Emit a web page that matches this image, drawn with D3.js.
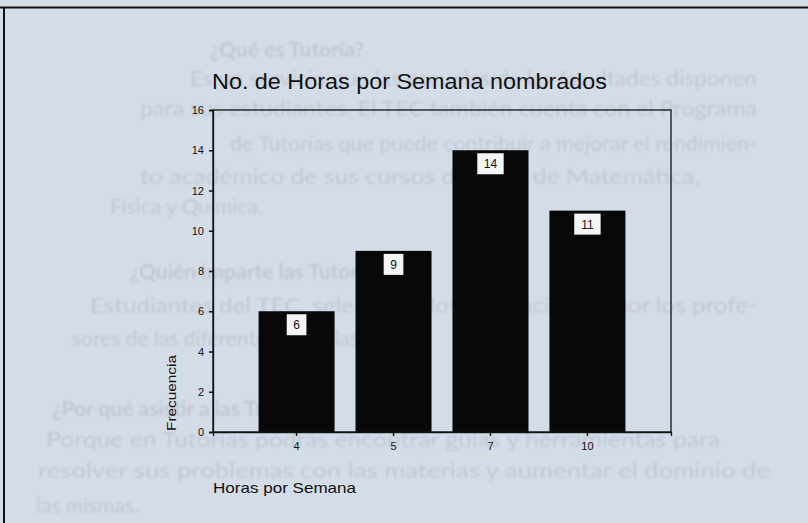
<!DOCTYPE html>
<html>
<head>
<meta charset="utf-8">
<script src="https://cdn.jsdelivr.net/npm/d3@7/dist/d3.min.js"></script>
<style>
  html, body { margin: 0; padding: 0; background: #d4dce8; }
  svg { display: block; }
</style>
</head>
<body>
<svg id="chart" width="808" height="523"></svg>
<script>
// ---- data ----
const categories = ["4", "5", "7", "10"];
const frequencies = [6, 9, 14, 11];
const yTicks = [0, 2, 4, 6, 8, 10, 12, 14, 16];
const titleText = "No. de Horas por Semana nombrados";
const xLabelText = "Horas por Semana";
const yLabelText = "Frecuencia";

// faded page text showing behind the chart (scanned page)
const pageLines = [
  "¿Qué es Tutoría?",
  "Es un servicio que las escuelas de las facultades disponen",
  "para sus estudiantes. El TEC también cuenta con el Programa",
  "de Tutorías que puede contribuir a mejorar el rendimien-",
  "to académico de sus cursos del área de Matemática,",
  "Física y Química.",
  "¿Quién imparte las Tutorías?",
  "Estudiantes del TEC, seleccionados y capacitados por los profe-",
  "sores de las diferentes escuelas.",
  "¿Por qué asistir a las Tutorías?",
  "Porque en Tutorías podrás encontrar guías y herramientas para",
  "resolver sus problemas con las materias y aumentar el dominio de",
  "las mismas."
];
// layout for those lines: [x start, x end (or null), baseline y, bold]
const pageLayout = [
  [210, null, 57, true],
  [190, 757, 86, false],
  [140, 757, 116, false],
  [230, 757, 151, false],
  [140, 700, 184, false],
  [110, null, 214, false],
  [130, null, 279, true],
  [90, 757, 313, false],
  [72, null, 346, false],
  [52, null, 416, true],
  [46, 720, 447, false],
  [38, 770, 478, false],
  [36, null, 513, false]
];

const svg = d3.select("#chart");
const W = 808, H = 523;

const defs = svg.append("defs");
defs.append("filter").attr("id", "soft")
  .append("feGaussianBlur").attr("stdDeviation", 0.9);

// faded background text
const pg = svg.append("g")
  .attr("font-family", "Lato, 'Open Sans', sans-serif")
  .attr("font-size", 21)
  .attr("fill", "#c0c8d3")
  .attr("filter", "url(#soft)");
pageLines.forEach((t, i) => {
  const [x0, x1, y, bold] = pageLayout[i];
  const el = pg.append("text").attr("x", x0).attr("y", y).text(t)
    .attr("font-weight", bold ? "bold" : "normal");
  if (x1 !== null) el.attr("textLength", x1 - x0).attr("lengthAdjust", "spacingAndGlyphs");
});

// page border lines
svg.append("line").attr("x1", 0).attr("x2", W).attr("y1", 7.5).attr("y2", 7.5)
  .attr("stroke", "#111").attr("stroke-width", 2);
svg.append("line").attr("x1", 4).attr("x2", 4).attr("y1", 7).attr("y2", H)
  .attr("stroke", "#111").attr("stroke-width", 2);

// plot area
const plot = { left: 213, right: 671, top: 110, bottom: 432 };

const x = d3.scaleBand()
  .domain(categories)
  .range([plot.left, plot.right])
  .paddingInner(0.216)
  .paddingOuter(0.47);

const y = d3.scaleLinear()
  .domain([0, 16])
  .range([plot.bottom, plot.top]);

const font = "'Liberation Sans', Arial, sans-serif";

// bars
svg.append("g").selectAll("rect")
  .data(frequencies)
  .join("rect")
  .attr("x", (d, i) => x(categories[i]))
  .attr("y", d => y(d))
  .attr("width", x.bandwidth())
  .attr("height", d => y(0) - y(d))
  .attr("fill", "#080808");

// value label boxes
const lab = svg.append("g").attr("font-family", font).attr("font-size", 12);
frequencies.forEach((d, i) => {
  const cx = x(categories[i]) + x.bandwidth() / 2;
  const txt = String(d);
  const w = txt.length * 6.7 + 13;
  lab.append("rect")
    .attr("x", cx - w / 2).attr("y", y(d) + 3)
    .attr("width", w).attr("height", 21)
    .attr("fill", "#f3f5f7");
  lab.append("text")
    .attr("x", cx).attr("y", y(d) + 3 + 15)
    .attr("text-anchor", "middle")
    .attr("fill", "#111")
    .text(txt);
});

// frame (top & right)
svg.append("rect")
  .attr("x", plot.left).attr("y", plot.top)
  .attr("width", plot.right - plot.left).attr("height", plot.bottom - plot.top)
  .attr("fill", "none").attr("stroke", "#111").attr("stroke-width", 1.3);

// axes
const yAxis = svg.append("g")
  .attr("transform", `translate(${plot.left},0)`)
  .call(d3.axisLeft(y).tickValues(yTicks).tickSize(4).tickPadding(5).tickFormat(d3.format("d")));
const xAxis = svg.append("g")
  .attr("transform", `translate(0,${plot.bottom})`)
  .call(d3.axisBottom(x).tickSize(4).tickPadding(6));
[yAxis, xAxis].forEach(a => {
  a.select(".domain").attr("stroke", "#111").attr("stroke-width", 1.3);
  a.selectAll(".tick line").attr("stroke", "#111").attr("stroke-width", 1.5);
  a.selectAll(".tick text").attr("font-family", font).attr("font-size", 11).attr("fill", "#111");
});

// title
svg.append("text")
  .attr("x", 212).attr("y", 89)
  .attr("font-family", font).attr("font-size", 22.5)
  .attr("fill", "#111")
  .attr("textLength", 395).attr("lengthAdjust", "spacingAndGlyphs")
  .text(titleText);

// axis labels
svg.append("text")
  .attr("x", 213).attr("y", 493)
  .attr("font-family", font).attr("font-size", 14.5)
  .attr("fill", "#111")
  .attr("textLength", 143).attr("lengthAdjust", "spacingAndGlyphs")
  .text(xLabelText);

svg.append("text")
  .attr("transform", "translate(176,431) rotate(-90)")
  .attr("font-family", font).attr("font-size", 13.5)
  .attr("fill", "#111")
  .attr("textLength", 76).attr("lengthAdjust", "spacingAndGlyphs")
  .text(yLabelText);
</script>
</body>
</html>
